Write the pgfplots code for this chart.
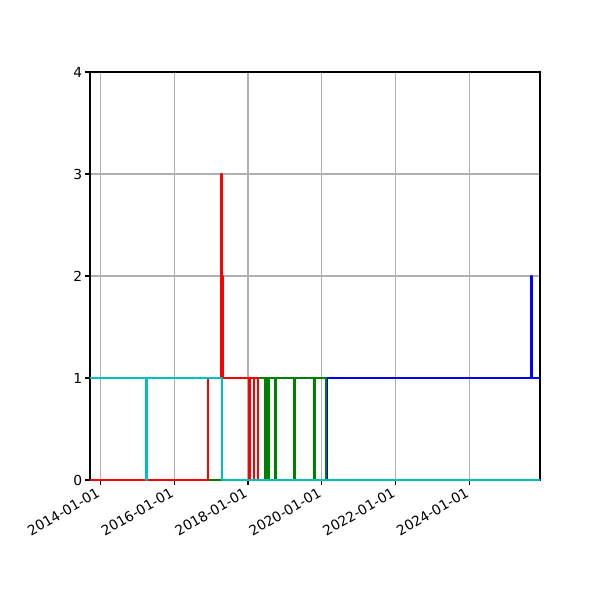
\documentclass[border=0pt]{standalone}
\usepackage{fontspec}
\setmainfont{DejaVu Sans}
\usepackage{pgfplots}
\pgfplotsset{compat=1.18}

\definecolor{mplb}{rgb}{0,0,1}
\definecolor{mplg}{rgb}{0,0.5,0}
\definecolor{mplr}{rgb}{1,0,0}
\definecolor{mplc}{rgb}{0,0.75,0.75}
\definecolor{gridgray}{RGB}{176,176,176}

% x = days since 2014-01-01
\pgfplotstableread{
x y
-200 0
2240.5 1
4264.4 2
4269.4 1
4500 1
}\bluedata

\pgfplotstableread{
x y
-200 0
1563.0 1
1629 0
1642 1
1655 0
1668 1
1727.6 0
1734.6 1
1919.5 0
1926.5 1
2112.5 0
2119.4 1
2234.6 0
4500 0
}\greendata

\pgfplotstableread{
x y
-200 0
1068.3 1
1196.9 3
1203.9 2
1209.8 1
1469.0 0
1480.8 1
1516.4 0
1523.4 1
1556.0 0
4500 0
}\reddata

\pgfplotstableread{
x y
-200 1
455.0 0
464.9 1
1206.8 0
4500 0
}\cyandata

\begin{document}
\begin{tikzpicture}
\begin{axis}[
  at={(0,0)}, anchor=south west,
  scale only axis,
  width=4.5in, height=4.08in,
  xmin=-101.9, xmax=4349.6,
  ymin=0, ymax=4,
  xtick={0,730,1461,2191,2922,3652},
  xticklabels={2014-01-01,2016-01-01,2018-01-01,2020-01-01,2022-01-01,2024-01-01},
  ytick={0,1,2,3,4},
  tick pos=left,
  tick align=outside,
  major tick length=3.5pt,
  tick style={black, line width=0.8pt},
  axis line style={black, line width=0.8pt},
  grid=major,
  major grid style={gridgray, line width=0.8pt},
  /pgf/number format/assume math mode=true,
  tick label style={font=\fontsize{10}{12}\selectfont},
  xticklabel style={xshift=-3pt, rotate=30, anchor=north east, inner sep=1pt},
  yticklabel style={inner sep=2pt},
  every axis plot/.append style={const plot, line width=1.5pt, line join=round, no marks},
]
\addplot[mplb] table {\bluedata};
\addplot[mplg] table {\greendata};
\addplot[mplr] table {\reddata};
\addplot[mplc] table {\cyandata};
\end{axis}
\path (-0.9in,-1.2in) rectangle (5.1in,4.8in);
\end{tikzpicture}
\end{document}
